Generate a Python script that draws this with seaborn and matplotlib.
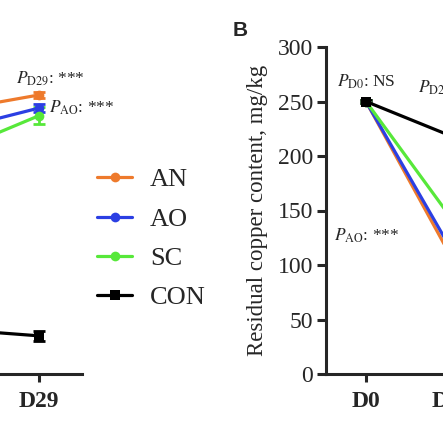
import pandas as pd
import matplotlib
matplotlib.use("Agg")
import matplotlib.pyplot as plt
import seaborn as sns

groups = ["AN", "AO", "SC", "CON"]
colors = ["#EE7A2C", "#2B3FE3", "#57E83A", "#000000"]
markers = {"AN": "o", "AO": "o", "SC": "o", "CON": "s"}

# panel A (only its right end is visible in the crop)
days_a = ["D22", "D29"]
a_an = [242, 256]
a_ao = [224, 244]
a_sc = [204, 237]
a_con = [41, 35]
a_an_sd = [3, 3]
a_ao_sd = [3, 4]
a_sc_sd = [4, 8]
a_con_sd = [3, 4.5]

# panel B
days_b = ["D0", "D29"]
b_an = [250, 106]
b_ao = [250, 113]
b_sc = [250, 142]
b_con = [250, 218]
b_sd = [1, 1]


def makeFrame(days, series):
    rows = []
    for g, vals in zip(groups, series):
        for i, v in enumerate(vals):
            rows.append({"pos": i, "day": days[i], "group": g, "value": v})
    return pd.DataFrame(rows)


def drawPanel(ax, days, series, sds):
    df = makeFrame(days, series)
    for g, c, vals, sd in zip(groups, colors, series, sds):
        ax.errorbar(range(len(vals)), vals, yerr=sd, fmt="none", ecolor=c,
                    elinewidth=2, capsize=4, capthick=2, zorder=2)
    sns.lineplot(data=df, x="pos", y="value", hue="group", style="group",
                 hue_order=groups, style_order=groups, palette=colors,
                 markers=markers, dashes=False, linewidth=2.3, markersize=7,
                 markeredgewidth=0, ax=ax, zorder=3)
    ax.set_xlim(-0.465, 1.5)
    ax.set_ylim(0, 300)
    ax.set_xticks(range(len(days)))
    ax.set_xticklabels(days, fontweight="bold", fontsize=17)
    ax.set_yticks(range(0, 301, 50))
    ax.tick_params(axis="y", labelsize=17, width=2.2, length=6.5, pad=3)
    ax.tick_params(axis="x", width=2.2, length=6, pad=6)
    for s in ["top", "right"]:
        ax.spines[s].set_visible(False)
    for s in ["left", "bottom"]:
        ax.spines[s].set_linewidth(2.2)
    ax.set_xlabel("")
    ax.set_ylabel("")


sns.set_style("ticks")
plt.rcParams["font.family"] = ["Liberation Serif", "DejaVu Serif"]
plt.rcParams["mathtext.fontset"] = "stix"

fig = plt.figure(figsize=(4.43, 4.43), dpi=100)
ax_a = fig.add_axes([-87 / 443, 69 / 443, 169 / 443, 327 / 443])
ax_b = fig.add_axes([326 / 443, 69 / 443, 169 / 443, 327 / 443])

drawPanel(ax_a, days_a, [a_an, a_ao, a_sc, a_con], [a_an_sd, a_ao_sd, a_sc_sd, a_con_sd])
drawPanel(ax_b, days_b, [b_an, b_ao, b_sc, b_con], [b_sd] * 4)

# panel A's y axis and first day lie outside the crop
ax_a.tick_params(axis="y", labelleft=False)
ax_a.get_xticklabels()[0].set_visible(False)

handles, labels = ax_b.get_legend_handles_labels()
ax_a.get_legend().remove()
ax_b.get_legend().remove()
fig.legend(handles, labels, loc="upper left", bbox_to_anchor=(97 / 443, 1 - 168 / 443),
           frameon=False, fontsize=19, handlelength=1.33, handletextpad=0.68,
           labelspacing=0.6, borderpad=0, borderaxespad=0)

ax_b.set_ylabel("Residual copper content, mg/kg", fontsize=16.5, labelpad=7)

ax_a.text(0.733, 271, r"$P_{\mathrm{D29}}$: ***", fontsize=12.5, ha="left", va="center")
ax_a.text(1.116, 244, r"$P_{\mathrm{AO}}$: ***", fontsize=12.5, ha="left", va="center")
ax_b.text(0, 268, r"$P_{\mathrm{D0}}$: NS", fontsize=12.5, ha="center", va="center")
ax_b.text(0.605, 262, r"$P_{\mathrm{D29}}$: ***", fontsize=12.5, ha="left", va="center")
ax_b.text(-0.372, 127, r"$P_{\mathrm{AO}}$: ***", fontsize=12.5, ha="left", va="center")

fig.text(233 / 443, 1 - 30 / 443, "B", fontsize=15, fontweight="bold",
         family="Liberation Sans", ha="left", va="center")

fig.savefig("out.png", dpi=100)
